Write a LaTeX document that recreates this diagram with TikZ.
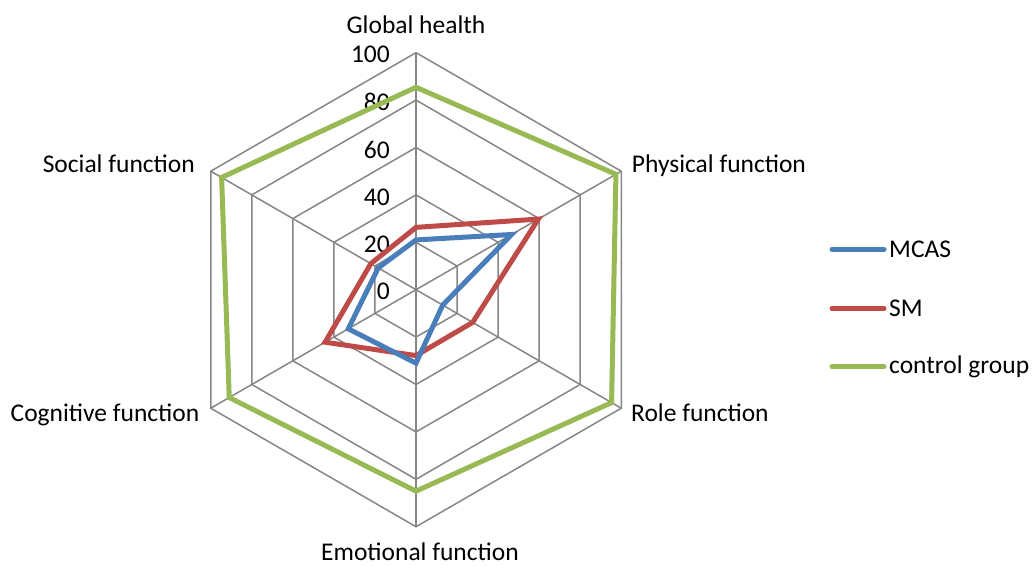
\documentclass[tikz,border=0pt]{standalone}
\usepackage{fontspec}
\setmainfont{Carlito}
\usetikzlibrary{calc}
\definecolor{gridgray}{HTML}{868686}
\definecolor{mcas}{HTML}{4A7EBB}
\definecolor{smred}{HTML}{BE4B48}
\definecolor{ctrl}{HTML}{98B954}
\tikzset{
  gridline/.style={draw=gridgray, line width=1.5pt},
  series/.style={line width=5pt, line join=miter},
  legline/.style={line width=5pt, line cap=round},
  lbl/.style={inner sep=0pt, font=\fontsize{25.5}{30}\selectfont},
}
\begin{document}
\begin{tikzpicture}[x=1pt,y=1pt]
\useasboundingbox (0,0) rectangle (1033,565);
\coordinate (C) at (416,275.3);
\def\U{2.37}
% grid hexagons
\foreach \v in {20,40,60,80,100}{
  \draw[gridline] ($(C)+(90:\v*\U)$) -- ($(C)+(30:\v*\U)$) -- ($(C)+(-30:\v*\U)$) -- ($(C)+(-90:\v*\U)$) -- ($(C)+(-150:\v*\U)$) -- ($(C)+(150:\v*\U)$) -- cycle;
}
\foreach \a in {90,30,-30,-90,-150,150}{
  \draw[gridline] (C) -- ($(C)+(\a:100*\U)$);
}
% tick labels
\foreach \v in {0,20,40,60,80,100}{
  \node[lbl, anchor=east] (t\v) at ($(C)+(-26,\v*\U-2)$) {\v};
}
% series
\draw[series, ctrl] ($(C)+(90:85.4*\U)$) -- ($(C)+(30:97.4*\U)$) -- ($(C)+(-30:95.3*\U)$) -- ($(C)+(-90:85*\U)$) -- ($(C)+(-150:91*\U)$) -- ($(C)+(150:94.7*\U)$) -- cycle;
\draw[series, smred] ($(C)+(90:26.3*\U)$) -- ($(C)+(30:59.6*\U)$) -- ($(C)+(-30:27.6*\U)$) -- ($(C)+(-90:27.8*\U)$) -- ($(C)+(-150:44.3*\U)$) -- ($(C)+(150:22*\U)$) -- cycle;
\draw[series, mcas] ($(C)+(90:21*\U)$) -- ($(C)+(30:46.6*\U)$) -- ($(C)+(-30:13*\U)$) -- ($(C)+(-90:31*\U)$) -- ($(C)+(-150:33*\U)$) -- ($(C)+(150:18.4*\U)$) -- cycle;
% axis labels
\node[lbl, anchor=base] (glob) at (416,531.7) {Global health};
\node[lbl, anchor=base west] (phys) at (631.7,392) {Physical function};
\node[lbl, anchor=base east] (soc) at (195,392) {Social function};
\node[lbl, anchor=base west] (role) at (631,143.3) {Role function};
\node[lbl, anchor=base east] (cog) at (199.5,143.3) {Cognitive function};
\node[lbl, anchor=base] (emo) at (420,5) {Emotional function};
% legend
\node[lbl, anchor=west] (l1) at (889,316) {MCAS};
\node[lbl, anchor=west] (l2) at (889,256.7) {SM};
\node[lbl, anchor=west] (l3) at (889,198.3) {control group};
\coordinate (l1a) at (832,315.7);
\coordinate (l2a) at (832,256.7);
\coordinate (l3a) at (832,198.3);
\draw[legline, mcas] (l1a) -- ++(52,0);
\draw[legline, smred] (l2a) -- ++(52,0);
\draw[legline, ctrl] (l3a) -- ++(52,0);
\end{tikzpicture}
\end{document}
